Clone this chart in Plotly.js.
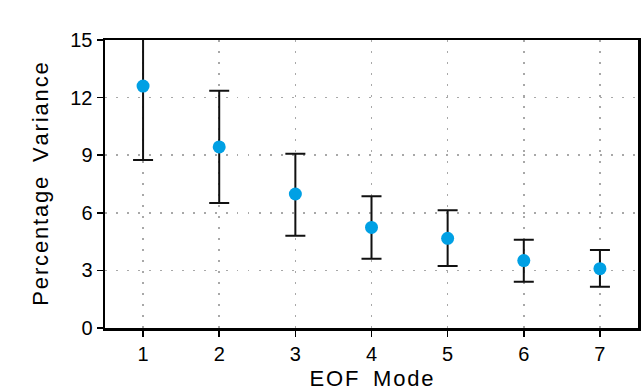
<!DOCTYPE html>
<html><head><meta charset="utf-8">
<script src="https://cdn.plot.ly/plotly-3.0.1.min.js"></script>
<style>html,body{margin:0;padding:0;background:#fff}</style>
</head><body><div id="chart" style="width:641px;height:391px"></div>
<script>
const modes = [1, 2, 3, 4, 5, 6, 7];
const variance = [12.6, 9.43, 6.98, 5.24, 4.67, 3.51, 3.09];
const upperBound = [16.5, 12.36, 9.07, 6.86, 6.13, 4.6, 4.06];
const lowerBound = [8.75, 6.51, 4.8, 3.61, 3.23, 2.41, 2.15];
const xTitle = 'EOF Mode';
const yTitle = 'Percentage Variance';

const errPlus = upperBound.map((u, i) => u - variance[i]);
const errMinus = lowerBound.map((l, i) => variance[i] - l);
const spaced = s => s.split('').join('\u200A').replace(/ /g, '\u2002');

const trace = {
  x: modes, y: variance, type: 'scatter', mode: 'markers',
  marker: {color: '#00a0e4', size: 13},
  error_y: {type: 'data', symmetric: false, array: errPlus, arrayminus: errMinus,
            color: '#111', thickness: 2, width: 10},
  cliponaxis: true, showlegend: false
};
const font = {family: 'Liberation Sans, Arial, sans-serif', color: '#000'};
const gridStyle = {showgrid: true, gridcolor: '#a8a8a8', griddash: '1.5px,9.5px', gridwidth: 1.5, zeroline: false};
const layout = {
  width: 641, height: 391,
  margin: {l: 105, r: 3, t: 40, b: 63},
  paper_bgcolor: '#fff', plot_bgcolor: '#fff',
  font: font,
  xaxis: Object.assign({range: [0.5, 7.5], tickvals: modes, ticks: 'outside', ticklen: 6, tickwidth: 1.5,
          tickcolor: '#000', showline: true, linecolor: '#000', linewidth: 2.5, mirror: true,
          tickfont: {size: 20}, title: {text: spaced(xTitle), font: {size: 22}, standoff: 7}}, gridStyle),
  yaxis: Object.assign({range: [0, 15], tickvals: [0, 3, 6, 9, 12, 15], ticks: 'outside', ticklen: 6, tickwidth: 1.5,
          tickcolor: '#000', showline: true, linecolor: '#000', linewidth: 2.5, mirror: true,
          tickfont: {size: 20}, title: {text: spaced(yTitle), font: {size: 22}, standoff: 16}}, gridStyle)
};
Plotly.newPlot('chart', [trace], layout, {displayModeBar: false, staticPlot: true});
</script></body></html>
